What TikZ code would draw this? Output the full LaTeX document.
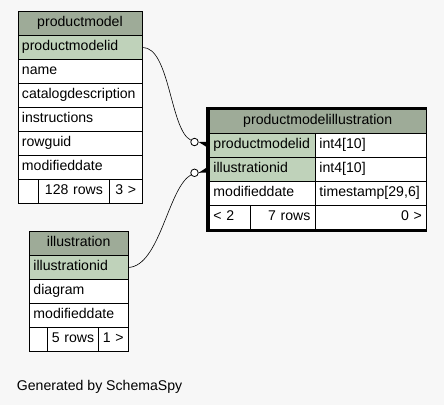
\documentclass[tikz,border=0pt]{standalone}
\usepackage{fontspec}
\setmainfont{Liberation Sans}
\definecolor{hdr}{RGB}{158,171,152}
\definecolor{keyc}{RGB}{191,210,186}
\definecolor{bgc}{RGB}{247,247,247}
\begin{document}
\begin{tikzpicture}[x=1pt,y=-1pt,
  font=\fontsize{14.1}{16}\selectfont,
  cell/.style={draw=black, line width=0.9pt, inner xsep=4pt, inner ysep=0pt,
    minimum height=24pt, anchor=north west, text height=10pt, text depth=3pt,
    fill=white, align=left},
  hcell/.style={cell, fill=hdr, align=center},
  kcell/.style={cell, fill=keyc},
  ccell/.style={cell, align=center},
  rcell/.style={cell, align=right},
  ring/.style={circle, draw=black, fill=white, line width=0.8pt, inner sep=0pt, minimum size=7.5pt},
  edge/.style={draw=black, line width=0.6pt}
]
\fill[bgc] (0,0) rectangle (444,405);
\useasboundingbox (0,0) rectangle (444,405);

% productmodel
\node[hcell, text width=116pt] (pmh) at (17.5,11) {productmodel};
\node[kcell, text width=116pt] (pm1) at (17.5,35) {productmodelid};
\node[cell, text width=116pt] (pm2) at (17.5,59) {name};
\node[cell, text width=116pt] (pm3) at (17.5,83) {catalogdescription};
\node[cell, text width=116pt] (pm4) at (17.5,107) {instructions};
\node[cell, text width=116pt] (pm5) at (17.5,131) {rowguid};
\node[cell, text width=116pt] (pm6) at (17.5,155) {modifieddate};
\node[cell, text width=12.5pt] (pmfa) at (17.5,179) {};
\node[ccell, text width=63pt] (pmfb) at (38,179) {128 rows};
\node[ccell, text width=24.5pt] (pmfc) at (109,179) {3 >};

% productmodelillustration
\draw[line width=3pt] (207.2,108.2) rectangle (425.8,230.2);
\node[hcell, text width=208.5pt] (pmih) at (209,109) {productmodelillustration};
\node[kcell, text width=98pt] (pmi1a) at (209,133) {productmodelid};
\node[cell, text width=102.5pt] (pmi1b) at (315,133) {int4[10]};
\node[kcell, text width=98pt] (pmi2a) at (209,157) {illustrationid};
\node[cell, text width=102.5pt] (pmi2b) at (315,157) {int4[10]};
\node[cell, text width=98pt] (pmi3a) at (209,181) {modifieddate};
\node[cell, text width=102.5pt] (pmi3b) at (315,181) {timestamp[29,6]};
\node[cell, text width=33pt] (pmifa) at (209,205) {< 2};
\node[rcell, text width=55pt, inner xsep=5pt] (pmifb) at (250,205) {7 rows};
\node[rcell, text width=102.5pt] (pmifc) at (315,205) {0 >};

% illustration
\node[hcell, text width=90.5pt] (ilh) at (29,231) {illustration};
\node[kcell, text width=90.5pt] (il1) at (29,255) {illustrationid};
\node[cell, text width=90.5pt] (il2) at (29,279) {diagram};
\node[cell, text width=90.5pt] (il3) at (29,303) {modifieddate};
\node[cell, text width=9.7pt] (ilfa) at (29,327) {};
\node[ccell, text width=43.6pt] (ilfb) at (46.7,327) {5 rows};
\node[ccell, text width=21.2pt] (ilfc) at (98.3,327) {1 >};

% connectors
\node[ring] (c1) at (194.5,142) {};
\node[ring] (c2) at (194.5,172.8) {};
\draw[edge] (pm1.east) .. controls (170,47) and (170,130) .. (c1);
\draw[edge] (il1.east) .. controls (160,266) and (168,188) .. (c2);
\fill (c1.east) -- ([yshift=3.5pt]pmi1a.west) -- ([yshift=-3pt]pmi1a.west) -- cycle;
\fill (c2.east) -- ([yshift=3.5pt]pmi2a.west) -- ([yshift=-3pt]pmi2a.west) -- cycle;

\node[anchor=base west, inner sep=0pt] (gen) at (16.7,390.5) {Generated by SchemaSpy};
\end{tikzpicture}
\end{document}
